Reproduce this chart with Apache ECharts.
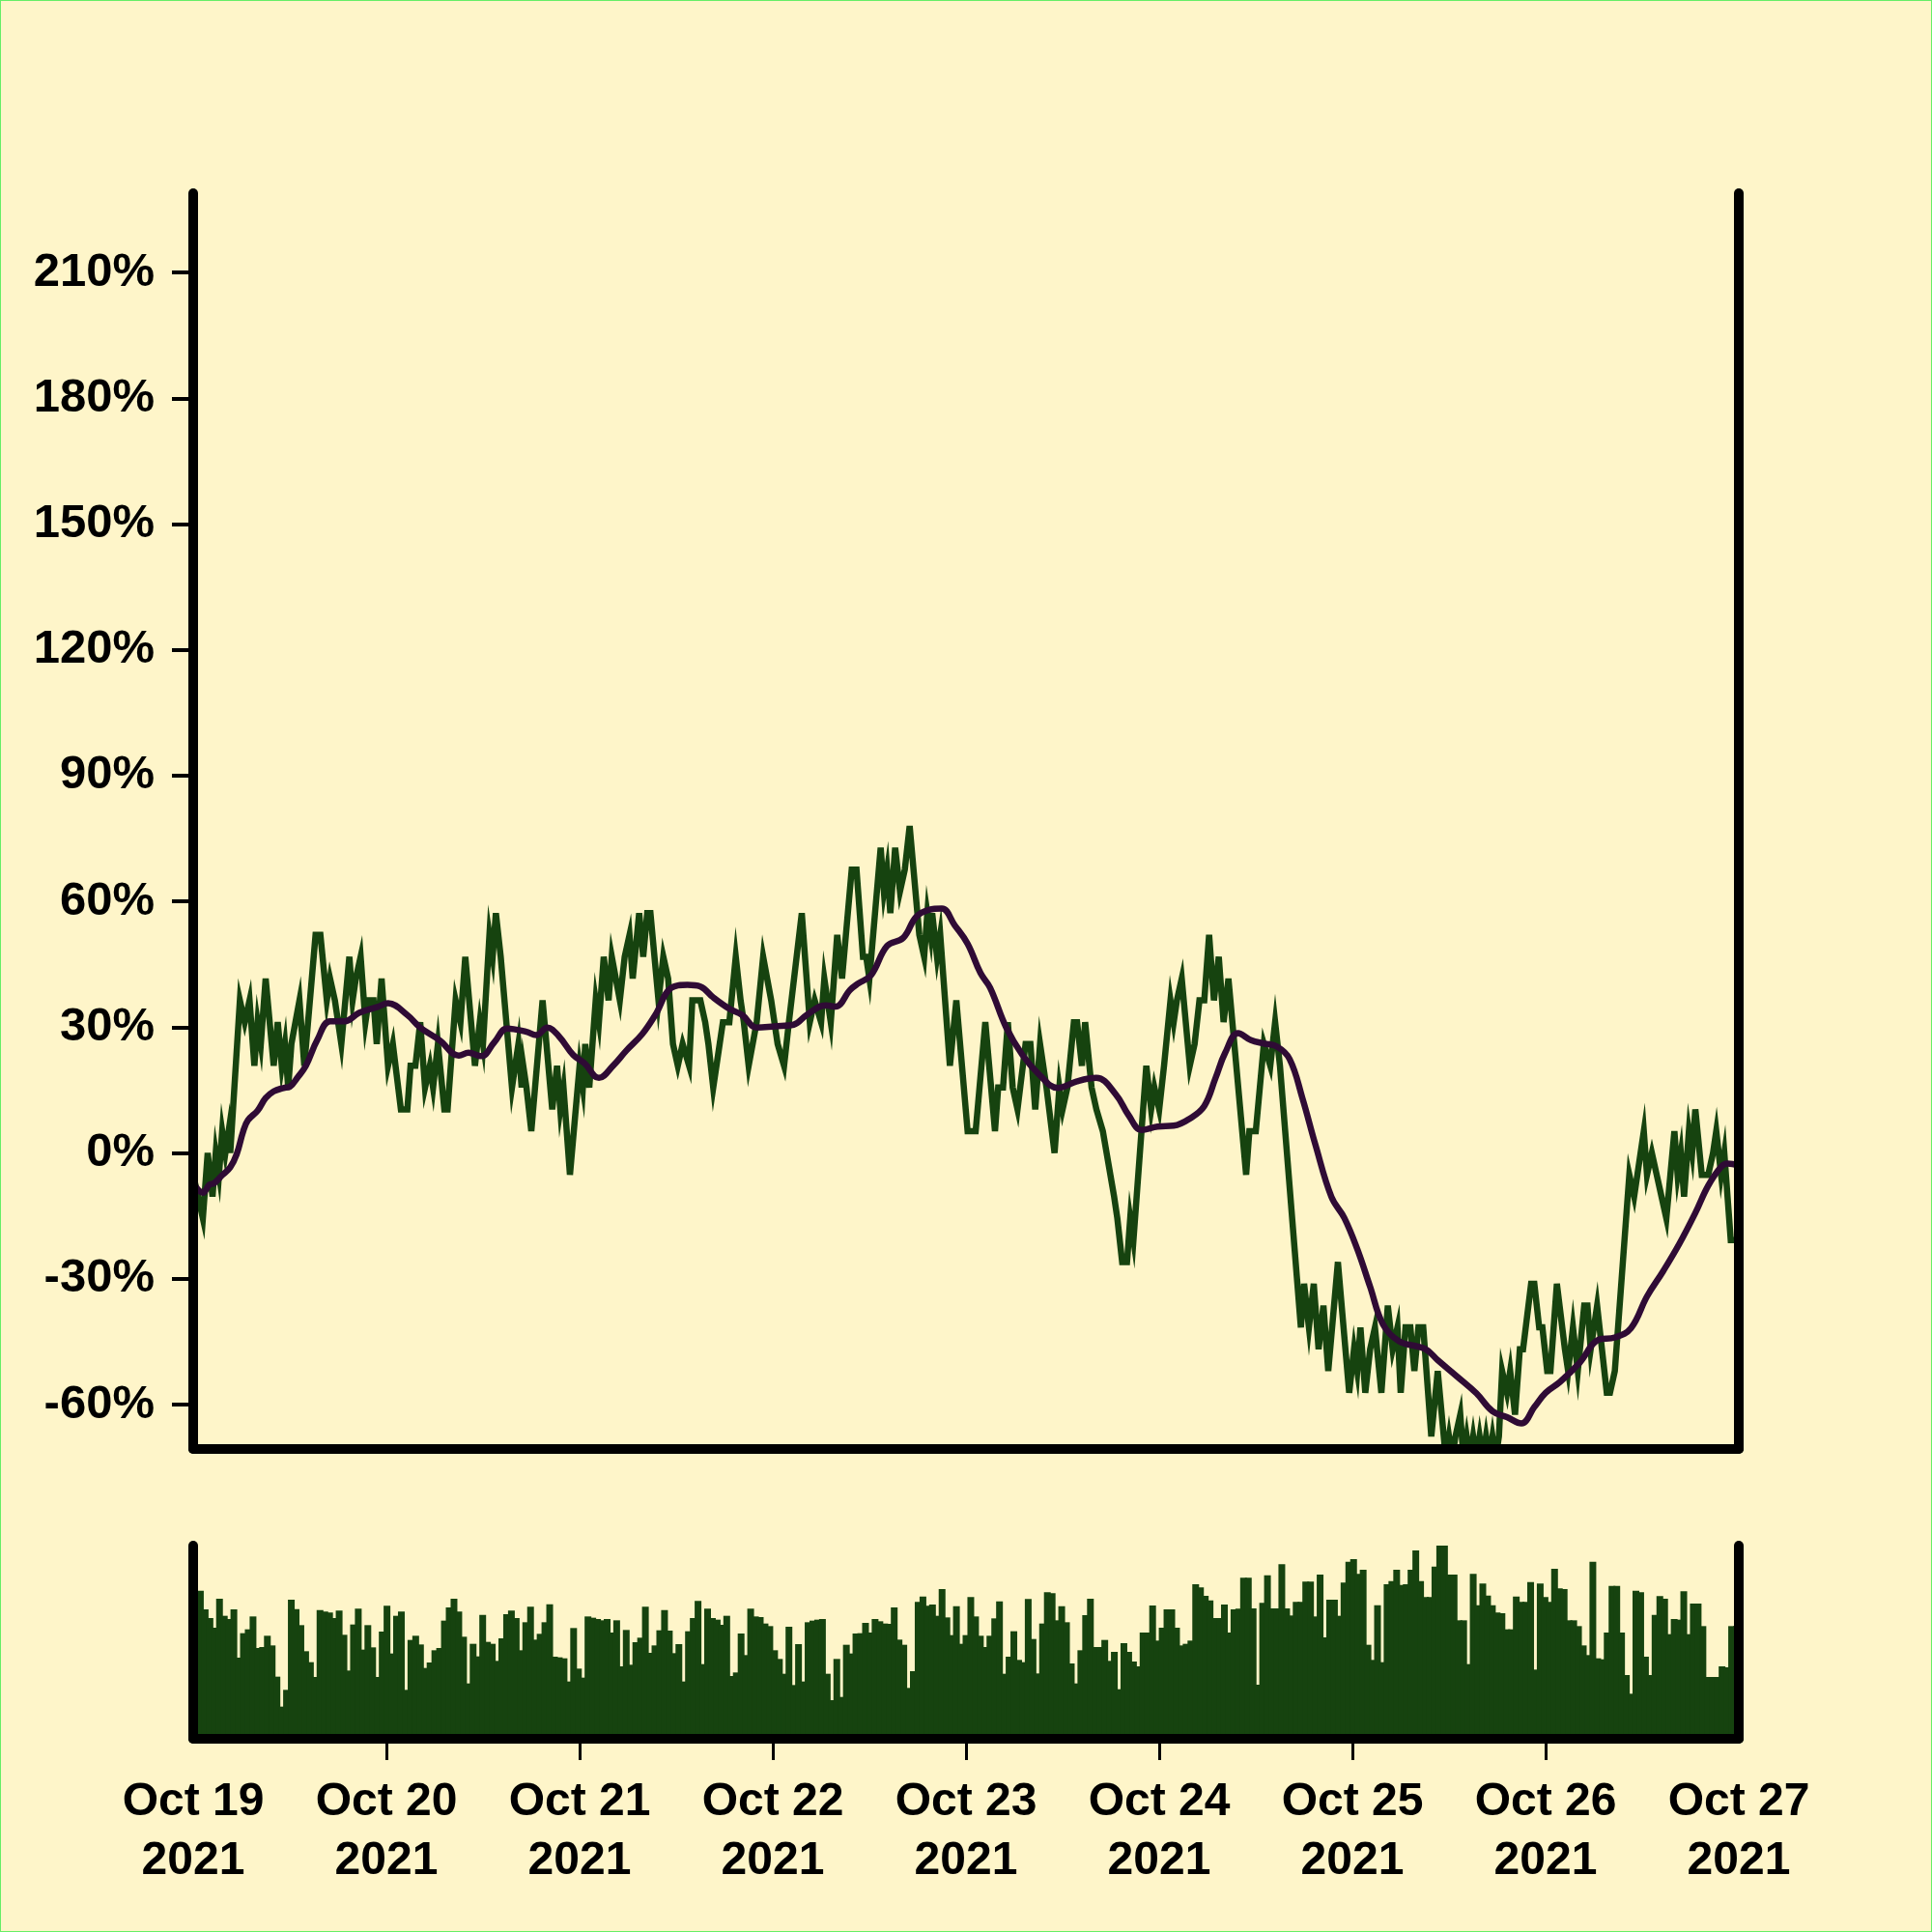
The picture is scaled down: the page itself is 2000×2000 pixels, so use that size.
<!DOCTYPE html>
<html>
<head>
<meta charset="utf-8">
<script src="https://cdn.jsdelivr.net/npm/echarts@6/dist/echarts.min.js"></script>
<style>
  html, body { margin: 0; padding: 0; background: #fef5c9; }
  #chart { width: 2000px; height: 2000px; }
  #frame { position: absolute; left: 0; top: 0; width: 2000px; height: 2000px; box-sizing: border-box; border: 1px solid #66ee66; pointer-events: none; }
</style>
</head>
<body>
<div id="chart"></div>
<div id="frame"></div>
<script>
// ---- Data (hours since Oct 19 2021 00:00) ----
const dayLabels = ['Oct 19\n2021','Oct 20\n2021','Oct 21\n2021','Oct 22\n2021','Oct 23\n2021','Oct 24\n2021','Oct 25\n2021','Oct 26\n2021','Oct 27\n2021'];
const xTickHours = [24, 48, 72, 96, 120, 144, 168];
const yTicks = [-60, -30, 0, 30, 60, 90, 120, 150, 180, 210];

const priceHours = [0,1.2,1.8,2.4,2.8,3.2,3.6,4.0,4.4,4.6,5.8,6.4,7.0,7.6,8.0,8.4,9.0,10.0,10.5,11.0,11.4,11.8,12.2,13.2,13.8,15.2,15.8,16.6,17.0,17.6,18.4,19.4,19.8,20.2,20.8,21.4,21.8,22.4,22.8,23.4,24.2,24.8,25.8,26.6,27.0,27.6,28.2,28.8,29.4,29.8,30.4,31.2,31.6,32.6,33.2,33.8,35.0,35.6,36.0,36.8,37.2,37.6,38.2,39.6,40.4,40.8,41.0,41.4,42.0,43.4,44.6,45.2,45.6,46.0,46.8,48.0,48.4,48.7,49.2,50.0,50.4,51.0,51.6,52.0,53.0,53.6,54.2,54.6,55.4,55.9,56.4,56.8,57.8,58.4,59.0,59.6,60.2,60.8,61.6,62.0,63.0,63.6,64.0,64.6,65.4,65.8,66.6,67.4,68.0,68.4,69.0,70.0,70.8,71.8,72.6,73.4,74.0,75.6,76.6,77.2,78.0,78.4,79.2,80.0,80.6,81.8,82.4,83.2,83.6,84.0,85.4,85.8,86.2,86.6,87.2,87.8,88.4,89.0,90.2,90.8,91.2,91.6,91.8,92.4,92.8,94.0,94.8,96.2,97.2,98.4,99.6,100.0,100.6,101.2,101.8,102.4,103.4,104.0,104.6,105.2,106.0,107.0,107.6,108.0,108.6,109.4,109.8,110.4,110.8,111.6,112.2,113.0,114.4,114.8,115.4,116.0,116.4,116.8,118.4,119.0,119.4,120.0,120.6,121.4,121.8,122.2,122.8,123.8,124.4,125.0,125.6,126.2,126.8,127.4,128.0,128.6,130.8,131.2,132.0,133.0,133.8,134.4,135.0,137.6,138.0,138.6,139.2,139.8,140.4,141.0,142.2,143.6,144.2,144.6,145.0,145.6,146.2,146.8,147.6,148.4,149.0,149.6,150.0,150.6,151.2,151.7,152.2,152.8,153.8,154.6,155.6,156.0,156.4,156.8,157.4,157.8,158.2,158.6,159.0,159.4,159.8,160.2,160.6,161.0,161.4,161.8,162.2,162.6,163.2,163.6,164.2,164.8,165.2,166.2,166.6,167.2,167.6,168.2,168.6,169.4,170.4,170.8,171.4,172.0,172.8,173.2,173.6,174.4,175.6,176.0,176.6,178.4,179.0,179.4,180.2,180.6,181.2,181.8,182.4,183.0,184.0,184.4,184.8,185.2,185.8,186.2,186.6,187.4,188.2,188.8,189.2,189.8,190.2,191.0,192.0];
const priceValues = [-5.2,-15.6,0,-10.4,0,-5.2,5.2,0,5.2,0,36.4,31.2,36.4,20.8,31.2,26,41.6,20.8,31.2,20.8,26,15.6,26,36.4,20.8,52,52,36.4,41.6,36.4,26,46.8,36.4,41.6,46.8,31.2,36.4,36.4,26,41.6,20.8,26,10.4,10.4,20.8,20.8,31.2,15.6,20.8,15.6,26,10.4,10.4,36.4,31.2,46.8,20.8,31.2,26,52,46.8,57.2,46.8,15.6,26,15.6,20.8,15.6,5.2,36.4,10.4,20.8,10.4,15.6,-5.2,20.8,15.6,26,15.6,36.4,31.2,46.8,36.4,46.8,36.4,46.8,52,41.6,57.2,46.8,57.2,57.2,36.4,46.8,41.6,26,20.8,26,20.8,36.4,36.4,31.2,26,15.6,26,31.2,31.2,46.8,36.4,31.2,20.8,31.2,46.8,36.4,26,20.8,31.2,57.2,31.2,36.4,31.2,41.6,31.2,52,41.6,67.6,67.6,46.8,46.8,41.6,72.8,62.4,67.6,57.2,72.8,62.4,67.6,78,52,46.8,57.2,52,57.2,46.8,52,20.8,36.4,5.2,5.2,31.2,5.2,15.6,15.6,31.2,15.6,10.4,26,26,10.4,26,15.6,0,15.6,10.4,15.6,31.2,31.2,20.8,31.2,15.6,10.4,5.2,-10.4,-15.6,-26,-26,-15.6,-20.8,20.8,10.4,15.6,10.4,20.8,36.4,31.2,36.4,41.6,20.8,26,36.4,36.4,52,36.4,46.8,31.2,41.6,-5.2,5.2,5.2,26,20.8,31.2,20.8,-41.6,-31.2,-41.6,-31.2,-46.8,-36.4,-52,-26,-57.2,-46.8,-52,-41.6,-57.2,-46.8,-41.6,-57.2,-36.4,-46.8,-41.6,-57.2,-41.6,-41.6,-52,-41.6,-41.6,-67.6,-52,-72.8,-67.6,-72.8,-67.6,-62.4,-72.8,-67.6,-72.8,-67.6,-72.8,-67.6,-72.8,-67.6,-72.8,-67.6,-72.8,-67.6,-52,-57.2,-52,-62.4,-46.8,-46.8,-31.2,-31.2,-41.6,-41.6,-52,-52,-31.2,-46.8,-52,-41.6,-52,-36.4,-36.4,-46.8,-36.4,-57.2,-57.2,-52,-5.2,-10.4,-5.2,5.2,-5.2,0,-5.2,-10.4,-15.6,5.2,-5.2,0,-10.4,5.2,0,10.4,-5.2,-5.2,0,5.2,-5.2,0,-20.8,-20.8];

const maHours = [0,1.2,2.0,2.6,3.6,4.6,5.4,6.2,6.8,8.0,9.0,10.0,11.2,12.0,13.0,14.0,15.4,17.0,18.8,20.6,23.0,24.2,26.6,28.2,30.6,33.0,34.2,35.8,37.4,39.0,41.4,42.6,44.0,45.4,47.2,48.6,50.4,52.2,53.8,55.8,57.4,59.4,61.4,63.0,64.6,66.6,68.2,70.0,72.2,74.6,76.2,78.6,79.8,81.6,82.6,84.2,86.2,88.2,89.8,91.4,93.0,94.6,96.2,97.8,99.0,101.0,103.0,105.0,107.4,109.8,112.2,114.6,116.2,117.8,119.8,121.8,123.8,125.6,127.0,128.2,129.8,131.4,133.0,134.6,136.2,137.8,139.4,141.4,143.0,144.6,146.2,147.8,149.8,153.0,154.6,157.0,159.4,161.4,163.2,165.0,166.6,168.0,169.8,172.2,174.6,176.6,178.6,180.6,182.6,184.6,186.6,188.2,189.8,190.6,192.0];
const maValues = [-7.2,-9.5,-7.6,-7.2,-5.3,-3.4,-0.3,5.1,7.8,10.1,13.1,14.7,15.5,15.8,18.1,20.8,26.9,31.4,31.4,33.4,34.9,35.7,32.9,29.9,26.9,23.2,23.9,23.1,26.4,29.7,28.9,28.1,29.9,27.9,23.4,21.4,17.9,20.9,24.4,28.4,32.9,39.4,40.1,39.7,37.1,34.4,32.9,29.9,30.2,30.6,32.9,35.2,34.9,38.9,40.4,42.4,49.4,51.3,56.3,58.0,58.3,54.3,49.9,42.9,39.4,29.9,23.4,18.9,15.5,17.1,17.9,14.0,9.0,5.5,6.3,6.5,8.2,11.2,17.9,23.9,28.6,26.9,26.1,25.4,22.4,13.0,2.0,-10.5,-15.5,-22.9,-31.9,-40.9,-44.9,-46.7,-49.4,-53.3,-57.3,-61.6,-63.0,-64.5,-60.6,-57.2,-54.6,-50.1,-44.5,-44.0,-41.8,-34.2,-28.2,-21.7,-14.3,-7.8,-3.3,-2.5,-3.0];

const volumes = [458,460,402,375,345,435,382,372,402,252,328,340,380,282,285,320,290,193,100,152,432,403,353,272,238,192,400,395,392,375,398,323,212,355,404,277,353,284,192,333,413,265,382,395,152,307,320,293,220,237,275,282,367,408,435,395,317,172,295,256,385,301,295,242,312,387,398,375,275,362,410,308,326,362,418,255,253,250,178,344,218,190,380,376,372,368,372,330,368,225,338,230,300,314,410,267,290,337,400,336,266,294,178,334,375,428,232,404,375,370,354,382,195,206,327,260,404,380,378,358,350,275,248,202,348,167,294,178,362,367,370,372,202,120,248,130,292,265,327,328,360,330,372,365,358,357,408,308,292,158,210,425,442,413,417,382,465,377,322,412,295,322,440,380,320,285,320,374,427,202,255,334,245,238,434,310,203,358,455,452,368,412,362,234,172,275,384,435,285,285,307,242,270,154,297,270,240,225,330,330,414,305,345,402,402,345,290,295,305,480,470,444,430,375,375,417,330,402,404,500,500,405,168,422,508,405,405,542,405,383,425,425,488,488,380,510,315,432,432,382,485,550,558,512,525,292,245,415,238,480,490,525,478,480,525,585,490,440,440,535,600,600,510,510,368,368,232,512,415,482,445,415,392,390,340,340,442,425,425,487,215,482,440,425,528,467,465,368,368,350,290,260,550,250,247,330,475,475,330,198,140,460,455,255,198,385,443,435,325,372,370,458,325,420,420,350,192,192,192,225,222,350,350];

// ---- Chart ----
const GREEN = '#16430f';
const PURPLE = '#2f0b35';
const FONT = "'Liberation Sans', Arial, Helvetica, sans-serif";
const AXIS_LINE = { show: true, onZero: false, lineStyle: { color: '#000', width: 10, cap: 'round' } };

const chart = echarts.init(document.getElementById('chart'), null, { renderer: 'canvas' });
chart.setOption({
  backgroundColor: '#fef5c9',
  animation: false,
  grid: [
    { left: 200, right: 200, top: 200, height: 1300 },
    { left: 200, right: 200, top: 1600, height: 200 }
  ],
  xAxis: [
    { gridIndex: 0, type: 'value', min: 0, max: 192, position: 'bottom', z: 10,
      axisLine: AXIS_LINE, axisTick: { show: false }, axisLabel: { show: false }, splitLine: { show: false } },
    { gridIndex: 1, type: 'category', position: 'top', show: false,
      data: volumes.map((_, i) => i), boundaryGap: true },
    { gridIndex: 1, type: 'value', min: 0, max: 192, interval: 24, position: 'bottom', z: 10,
      axisLine: AXIS_LINE,
      axisTick: { show: true, length: 22, customValues: xTickHours, lineStyle: { color: '#000', width: 3 } },
      axisLabel: { show: true, margin: 35, color: '#000', fontFamily: FONT, fontWeight: 'bold', fontSize: 48, lineHeight: 61,
        showMinLabel: true, showMaxLabel: true, hideOverlap: false,
        formatter: v => dayLabels[Math.round(v / 24)] },
      splitLine: { show: false } }
  ],
  yAxis: [
    { gridIndex: 0, type: 'value', min: -70.6, max: 228.9, position: 'left', z: 10,
      axisLine: AXIS_LINE,
      axisTick: { show: true, length: 22, customValues: yTicks, lineStyle: { color: '#000', width: 4 } },
      axisLabel: { show: true, margin: 40, customValues: yTicks, color: '#000', fontFamily: FONT, fontWeight: 'bold', fontSize: 49,
        formatter: v => v + '%' },
      splitLine: { show: false } },
    { gridIndex: 0, type: 'value', min: -70.6, max: 228.9, position: 'right', z: 10,
      axisLine: AXIS_LINE, axisTick: { show: false }, axisLabel: { show: false }, splitLine: { show: false } },
    { gridIndex: 1, type: 'value', min: 0, max: 'dataMax', position: 'left', z: 10,
      axisLine: AXIS_LINE, axisTick: { show: false }, axisLabel: { show: false }, splitLine: { show: false } },
    { gridIndex: 1, type: 'value', min: 0, max: 'dataMax', position: 'right', z: 10,
      axisLine: AXIS_LINE, axisTick: { show: false }, axisLabel: { show: false }, splitLine: { show: false } }
  ],
  series: [
    { type: 'line', xAxisIndex: 0, yAxisIndex: 0, symbol: 'none', clip: true, z: 2,
      lineStyle: { color: GREEN, width: 6.5, join: 'miter' },
      data: priceHours.map((h, i) => [h, priceValues[i]]) },
    { type: 'line', xAxisIndex: 0, yAxisIndex: 0, symbol: 'none', clip: true, smooth: 0.4, z: 3,
      lineStyle: { color: PURPLE, width: 6.5 },
      data: maHours.map((h, i) => [h, maValues[i]]) },
    { type: 'bar', xAxisIndex: 1, yAxisIndex: 2, barWidth: 7, z: 2, large: false,
      itemStyle: { color: GREEN, borderWidth: 0 },
      data: volumes }
  ]
});
</script>
</body>
</html>
